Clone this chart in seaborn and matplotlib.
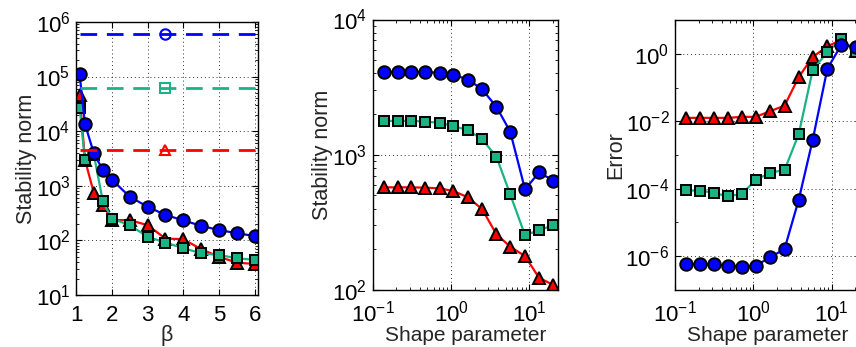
import numpy as np
import pandas as pd
import matplotlib
matplotlib.use("Agg")
import matplotlib.pyplot as plt
import matplotlib.ticker as mticker
import seaborn as sns

# ---------------- data ----------------
beta = [1.1, 1.25, 1.5, 1.75, 2, 2.5, 3, 3.5, 4, 4.5, 5, 5.5, 6]
blue_beta = [1.1e5, 1.35e4, 3.9e3, 1.95e3, 1.3e3, 630, 414, 292, 233, 184, 155, 135, 120]
green_beta = [2.7e4, 2.9e3, 3.7e3, 520, 250, 190, 117, 91, 72, 58, 54, 47, 44]
red_beta = [4.6e4, 3.0e3, 730, 450, 235, 235, 190, 108, 105, 69, 50, 39, 37]
ref_x = [1.1, 3.5, 6.0]
ref_levels = [5.9e5, 6.1e4, 4.6e3]  # blue, green, red

shape = [0.14, 0.21, 0.31, 0.47, 0.72, 1.07, 1.65, 2.5, 3.8, 5.7, 8.8, 13.3, 20.2]
blue_mid = [4080, 4080, 4080, 4080, 4040, 3900, 3600, 3040, 2260, 1480, 555, 740, 645]
green_mid = [1780, 1780, 1780, 1760, 1720, 1630, 1520, 1300, 966, 509, 254, 277, 301]
red_mid = [574, 574, 574, 571, 564, 539, 484, 395, 258, 209, 178, 123, 109]

blue_err = [5.7e-7, 5.7e-7, 5.7e-7, 5.3e-7, 4.95e-7, 5.3e-7, 9.3e-7, 1.64e-6, 4.8e-5, 2.7e-3, 0.36, 1.85, 1.64]
green_err = [9.0e-5, 8.7e-5, 7.7e-5, 5.9e-5, 7.2e-5, 1.82e-4, 3.0e-4, 3.6e-4, 4.2e-3, 0.32, 1.15, 2.7, 1.1]
red_err = [0.0126, 0.0126, 0.0126, 0.0126, 0.0135, 0.0135, 0.02, 0.029, 0.205, 0.8, 1.65, 2.6, 1.17]

# ---------------- style ----------------
sns.set_theme(style="ticks")
plt.rcParams["font.family"] = ["Liberation Sans", "DejaVu Sans"]
plt.rcParams["mathtext.fontset"] = "custom"
plt.rcParams["mathtext.rm"] = "Liberation Sans"
plt.rcParams["mathtext.it"] = "Liberation Sans:italic"
plt.rcParams["mathtext.bf"] = "Liberation Sans:bold"
plt.rcParams["axes.linewidth"] = 1.0

BLUE = "#0000ff"
GREEN = "#1ab384"
RED = "#ff0000"
FS = 15.5
TFS = 16

fig = plt.figure(figsize=(8.56, 3.47), dpi=100)
ax1 = fig.add_axes([0.0888, 0.1499, 0.2126, 0.787])
ax2 = fig.add_axes([0.4354, 0.1643, 0.2168, 0.7795])
ax3 = fig.add_axes([0.7886, 0.1643, 0.2168, 0.778])

common = dict(linewidth=1.6, markeredgecolor="black", markeredgewidth=1.4,
              markersize=8, legend=False)


def series(ax, x, y, color, marker, **kw):
    df = pd.DataFrame({"x": x, "y": y})
    args = dict(common)
    args.update(kw)
    sns.lineplot(data=df, x="x", y="y", ax=ax, color=color, marker=marker,
                 markerfacecolor=color, sort=False, **args)


def style_axes(ax):
    ax.tick_params(which="both", direction="in", top=True, right=True,
                   labelsize=TFS, colors="black")
    ax.tick_params(axis="x", which="both", pad=7.5)
    ax.tick_params(axis="y", which="both", pad=4)
    ax.tick_params(which="major", length=4, width=0.8)
    ax.tick_params(which="minor", length=2, width=0.6)
    ax.grid(True, which="major", linestyle=(0, (1, 3)), color="black",
            linewidth=0.7, alpha=0.8)
    for s in ax.spines.values():
        s.set_visible(True)
        s.set_color("black")
        s.set_linewidth(1.0)
    ax.set_axisbelow(True)


# ---------- left panel ----------
series(ax1, beta, red_beta, RED, "^", markersize=9)
series(ax1, beta, green_beta, GREEN, "s", markersize=7.5)
series(ax1, beta, blue_beta, BLUE, "o", markersize=9)
for lvl, col, mk in zip(ref_levels, [BLUE, GREEN, RED], ["o", "s", "^"]):
    dfh = pd.DataFrame({"x": ref_x, "y": [lvl] * len(ref_x)})
    sns.lineplot(data=dfh, x="x", y="y", ax=ax1, color=col, linestyle=(0, (6, 3.5)),
                 linewidth=2.0, marker=mk, markevery=[1], markersize=7.5,
                 markerfacecolor="none", markeredgecolor=col, markeredgewidth=1.5,
                 legend=False)
ax1.set_yscale("log")
ax1.set_ylim(10, 1e6)
ax1.set_xlim(1, 6.09)
ax1.set_xticks([1, 2, 3, 4, 5, 6])
ax1.yaxis.set_major_locator(mticker.LogLocator(base=10, numticks=10))
ax1.yaxis.set_minor_locator(mticker.LogLocator(base=10, subs=np.arange(2, 10), numticks=20))
ax1.yaxis.set_minor_formatter(mticker.NullFormatter())
ax1.set_xlabel("β", fontsize=FS, labelpad=-1)
ax1.set_ylabel("Stability norm", fontsize=FS, labelpad=-1)
style_axes(ax1)

# ---------- middle panel ----------
series(ax2, shape, red_mid, RED, "^", markersize=9)
series(ax2, shape, green_mid, GREEN, "s", markersize=7.5)
series(ax2, shape, blue_mid, BLUE, "o", markersize=9)
ax2.set_xscale("log")
ax2.set_yscale("log")
ax2.set_xlim(0.1, 23.4)
ax2.set_ylim(100, 1e4)
for ax in (ax2, ax3):
    ax.xaxis.set_major_locator(mticker.LogLocator(base=10, numticks=10))
    ax.xaxis.set_minor_locator(mticker.LogLocator(base=10, subs=np.arange(2, 10), numticks=20))
    ax.xaxis.set_minor_formatter(mticker.NullFormatter())
ax2.yaxis.set_major_locator(mticker.LogLocator(base=10, numticks=10))
ax2.yaxis.set_minor_locator(mticker.LogLocator(base=10, subs=np.arange(2, 10), numticks=20))
ax2.yaxis.set_minor_formatter(mticker.NullFormatter())
ax2.set_xlabel("Shape parameter", fontsize=FS - 0.5, labelpad=0)
ax2.set_ylabel("Stability norm", fontsize=FS, labelpad=-1)
style_axes(ax2)

# ---------- right panel ----------
series(ax3, shape, red_err, RED, "^", markersize=9)
series(ax3, shape, green_err, GREEN, "s", markersize=7.5)
series(ax3, shape, blue_err, BLUE, "o", markersize=9)
ax3.set_xscale("log")
ax3.set_yscale("log")
ax3.set_xlim(0.1, 23.4)
ax3.set_ylim(1e-7, 10)
ax3.yaxis.set_major_locator(mticker.FixedLocator([1e-6, 1e-4, 1e-2, 1e0]))
ax3.yaxis.set_minor_locator(mticker.FixedLocator([1e-7, 1e-5, 1e-3, 1e-1, 1e1]))
ax3.yaxis.set_major_formatter(mticker.LogFormatterSciNotation())
ax3.yaxis.set_minor_formatter(mticker.NullFormatter())
ax3.set_xlabel("Shape parameter", fontsize=FS - 0.5, labelpad=0)
ax3.set_ylabel("Error", fontsize=FS, labelpad=-1)
style_axes(ax3)

fig.savefig("out.png", dpi=100)
